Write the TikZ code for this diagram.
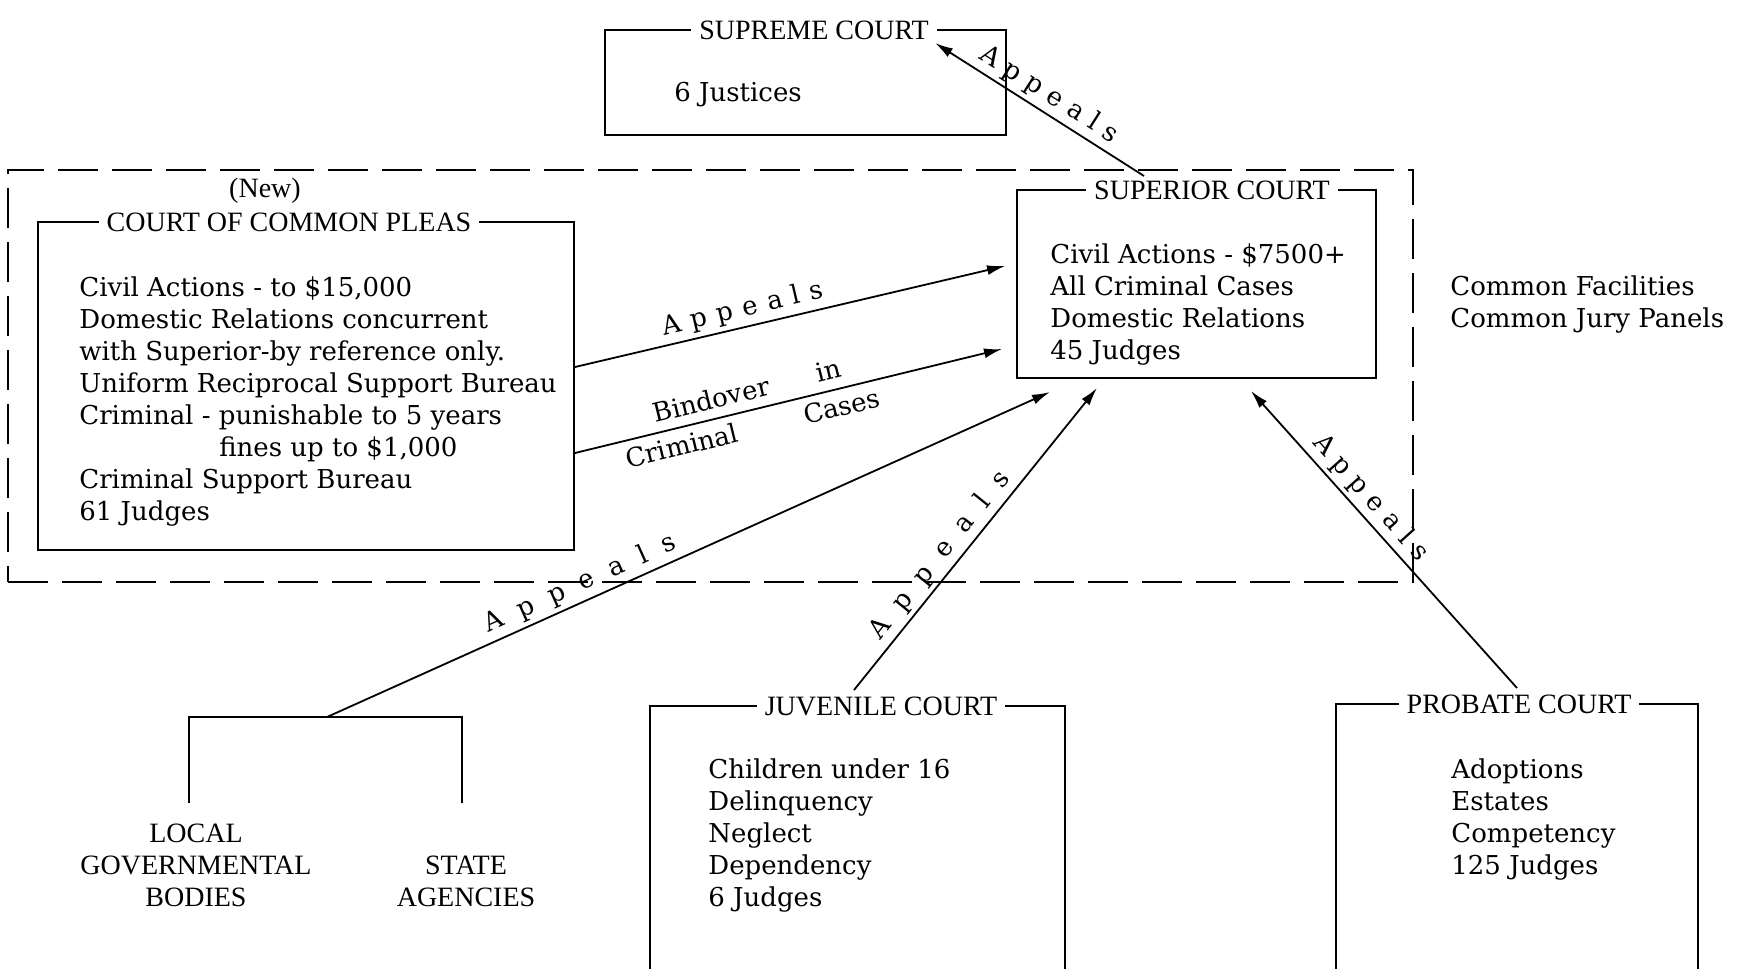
\documentclass[tikz,border=0pt]{standalone}
\usepackage{fontspec}
\setmainfont{DejaVu Serif}
\newfontfamily\headfont{Liberation Serif}
\usetikzlibrary{arrows.meta,fit,calc}
\newcommand\Appls[1]{A\hspace{#1}p\hspace{#1}p\hspace{#1}e\hspace{#1}a\hspace{#1}l\hspace{#1}s}
\begin{document}
\begin{tikzpicture}[x=0.5pt,y=-0.5pt,
  box/.style={draw,line width=1pt,inner sep=0pt},
  head/.style={font=\headfont\fontsize{14}{16}\selectfont,fill=white,inner xsep=4pt,inner ysep=1pt},
  caps/.style={font=\headfont\fontsize{14}{16}\selectfont,align=center,anchor=north,inner sep=0pt},
  body/.style={font=\fontsize{13}{16}\selectfont,align=left,anchor=north west,inner sep=0pt},
  arr/.style={line width=0.9pt,-{Latex[length=9pt,width=5pt]}},
  lbl/.style={font=\fontsize{13}{14}\selectfont,sloped,inner sep=2pt},
  zone/.style={draw,line width=1.2pt,dash pattern=on 20pt off 7pt,inner sep=0pt}]
\clip (0,0) rectangle (1743,968);
\fill[white] (0,0) rectangle (1743,968);

% dashed zone
\coordinate (z1) at (8,170); \coordinate (z2) at (1413,582);
\node[zone,fit=(z1)(z2)] (zone) {};

% boxes
\coordinate (s1) at (605,30); \coordinate (s2) at (1006,135);
\node[box,fit=(s1)(s2)] (supreme) {};
\coordinate (c1) at (38,222); \coordinate (c2) at (574,550);
\node[box,fit=(c1)(c2)] (ccp) {};
\coordinate (u1) at (1017,190); \coordinate (u2) at (1376,378);
\node[box,fit=(u1)(u2)] (sup) {};
\coordinate (j1) at (650,706); \coordinate (j2) at (1065,1000);
\node[box,fit=(j1)(j2)] (juv) {};
\coordinate (p1) at (1336,704); \coordinate (p2) at (1698,1000);
\node[box,fit=(p1)(p2)] (prob) {};

% bracket for local / state
\coordinate (brk) at (327,717);
\draw[line width=1pt] (189,803) -- (189,717) -- (462,717) -- (462,803);

% titles
\node[head] (supT) at (814,30) {SUPREME COURT};
\node[head] (ccpT) at (289,222) {COURT OF COMMON PLEAS};
\node[font=\headfont\fontsize{14}{16}\selectfont,inner sep=0pt] (newT) at (265,191) {(New)};
\node[head] (supeT) at (1212,190) {SUPERIOR COURT};
\node[head] (juvT) at (881,706) {JUVENILE COURT};
\node[head] (probT) at (1519,704) {PROBATE COURT};

% bodies
\node[body] (supB) at (674,82) {6 Justices};
\node[body] (ccpB) at (79,276) {Civil Actions - to \$15,000\\
Domestic Relations concurrent\\
with Superior-by reference only.\\
Uniform Reciprocal Support Bureau\\
Criminal - punishable to 5 years\\
\hspace*{70pt}fines up to \$1,000\\
Criminal Support Bureau\\
61 Judges};
\node[body] (supeB) at (1050,243) {Civil Actions - \$7500+\\
All Criminal Cases\\
Domestic Relations\\
45 Judges};
\node[body] (common) at (1450,275) {Common Facilities\\Common Jury Panels};
\node[body] (juvB) at (708,758) {Children under 16\\
Delinquency\\
Neglect\\
Dependency\\
6 Judges};
\node[body] (probB) at (1451,758) {Adoptions\\
Estates\\
Competency\\
125 Judges};
\node[caps] (local) at (196,824) {LOCAL\\GOVERNMENTAL\\BODIES};
\node[caps] (state) at (466,856) {STATE\\AGENCIES};

% connectors
\draw[arr] ([xshift=-26.25pt,yshift=6.5pt]sup.north) -- node[lbl,above,pos=0.5]{\Appls{4.5pt}} ([xshift=-36pt,yshift=-7pt]supreme.north east);
\draw[arr] ([yshift=9.5pt]ccp.east) -- node[lbl,above,pos=0.4]{\Appls{5pt}} ([xshift=-5.5pt,yshift=9pt]sup.west);
\draw[arr] ([yshift=-33.5pt]ccp.east) --
  node[lbl,above=2.5pt,pos=0.33]{Bindover}
  node[lbl,above=3pt,pos=0.605]{in}
  node[lbl,below=1.5pt,pos=0.24]{Criminal}
  node[lbl,below=1.5pt,pos=0.615]{Cases}
  ([xshift=-7pt,yshift=-32.5pt]sup.west);
\draw[arr] (brk) -- node[lbl,above,pos=0.36]{\Appls{8.5pt}} ([xshift=17pt,yshift=-6.5pt]sup.south west);
\draw[arr] ([xshift=-1.75pt,yshift=7.5pt]juv.north) -- node[lbl,above,pos=0.41]{\Appls{8.5pt}} ([xshift=40.5pt,yshift=-4.5pt]sup.south west);
\draw[arr] ([yshift=7.5pt]prob.north) -- node[lbl,above,pos=0.6]{\Appls{4.5pt}} ([xshift=117.5pt,yshift=-6pt]sup.south west);
\end{tikzpicture}
\end{document}
